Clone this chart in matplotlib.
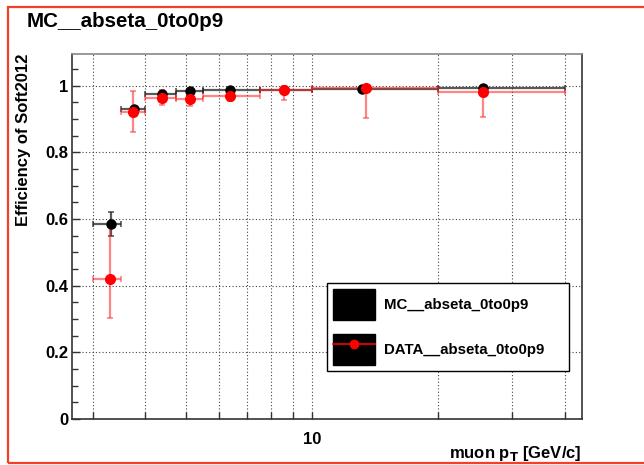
import numpy as np
import matplotlib
matplotlib.use("Agg")
import matplotlib.pyplot as plt
from matplotlib.patches import Patch, Rectangle
from matplotlib.lines import Line2D
from matplotlib.legend_handler import HandlerTuple
from matplotlib.ticker import FixedLocator, NullFormatter

plt.rcParams['font.family'] = ['Liberation Sans', 'DejaVu Sans']
plt.rcParams['font.weight'] = 'bold'

# pt bins (GeV/c)
bin_edges = np.array([3.0, 3.5, 4.0, 4.75, 5.5, 7.5, 10.0, 20.0, 40.0])

# MC efficiency
mc_x = np.array([3.32, 3.77, 4.39, 5.12, 6.38, 8.58, 13.15, 25.5])
mc_eff = np.array([0.585, 0.931, 0.974, 0.985, 0.986, 0.988, 0.989, 0.992])
mc_err_lo = np.array([0.035, 0.006, 0.004, 0.003, 0.002, 0.002, 0.002, 0.002])
mc_err_hi = np.array([0.035, 0.006, 0.004, 0.003, 0.002, 0.002, 0.002, 0.002])

# DATA efficiency
data_x = np.array([3.30, 3.75, 4.39, 5.12, 6.38, 8.58, 13.4, 25.6])
data_eff = np.array([0.420, 0.920, 0.964, 0.960, 0.968, 0.986, 0.993, 0.980])
data_err_lo = np.array([0.117, 0.060, 0.023, 0.020, 0.015, 0.028, 0.090, 0.074])
data_err_hi = np.array([0.160, 0.063, 0.024, 0.015, 0.017, 0.014, 0.007, 0.012])

label_mc = 'MC__abseta_0to0p9'
label_data = 'DATA__abseta_0to0p9'

fig = plt.figure(figsize=(6.44, 4.65), dpi=100)
ax = fig.add_axes([0.1125, 0.0989, 0.7912, 0.786])

def draw_graph(x, y, lo, hi, color, ecolor, ms, ealpha):
    xlo = x - bin_edges[:-1]
    xhi = bin_edges[1:] - x
    ax.errorbar(x, y, xerr=[xlo, xhi], yerr=[lo, hi], fmt='none',
                ecolor=ecolor, elinewidth=1.6, capsize=2.5, capthick=1.2,
                alpha=ealpha, zorder=3)
    ax.plot(x, y, 'o', color=color, ms=ms, zorder=4)

draw_graph(mc_x, mc_eff, mc_err_lo, mc_err_hi, 'black', '#222222', 6.5, 0.75)
draw_graph(data_x, data_eff, data_err_lo, data_err_hi, 'red', '#ff2020', 7.0, 0.55)

ax.set_xscale('log')
ax.set_xlim(2.684, 43.95)
ax.set_ylim(0, 1.096)

ax.xaxis.set_major_locator(FixedLocator([10]))
ax.xaxis.set_minor_locator(FixedLocator([3, 4, 5, 6, 7, 8, 9, 20, 30, 40]))
ax.xaxis.set_major_formatter(plt.FormatStrFormatter('%d'))
ax.xaxis.set_minor_formatter(NullFormatter())
ax.yaxis.set_major_locator(FixedLocator([0, 0.2, 0.4, 0.6, 0.8, 1.0]))
ax.yaxis.set_minor_locator(FixedLocator(np.arange(0.05, 1.09, 0.05)))
ax.set_yticklabels(['0', '0.2', '0.4', '0.6', '0.8', '1'])

ax.tick_params(which='both', direction='in', top=False, right=False,
               labelsize=12, width=1.0, color='#333333')
ax.tick_params(axis='y', which='major', length=6, pad=3)
ax.tick_params(axis='y', which='minor', length=4)
ax.tick_params(axis='x', which='both', length=5, pad=9)

ax.grid(True, which='major', linestyle=(0, (1, 2)), color='#444444', lw=0.8)
ax.grid(True, which='minor', axis='x', linestyle=(0, (1, 2)), color='#444444', lw=0.8)
ax.set_axisbelow(True)

for s in ax.spines.values():
    s.set_color('#333333')
    s.set_linewidth(1.2)
ax.spines['top'].set_color('#888888')

ax.set_xlabel(r'muon p$_\mathbf{T}$ [GeV/c]', fontsize=12, fontweight='bold',
              loc='right', labelpad=-2)
ax.set_ylabel('Efficiency of Soft2012', fontsize=12, fontweight='bold',
              loc='top', labelpad=10)

fig.text(0.0415, 0.953, label_mc, fontsize=14.8, fontweight='bold', va='center')

# legend
h_mc = Patch(facecolor='black', edgecolor='black')
h_data = (Patch(facecolor='black', edgecolor='black'),
          Line2D([], [], color='red', lw=1.2, marker='o', ms=6))
leg = ax.legend([h_mc, h_data], [label_mc, label_data],
                handler_map={tuple: HandlerTuple(ndivide=1, pad=0)},
                loc='upper left', bbox_to_anchor=(0.5, 0.0, 0.4745, 0.3726),
                bbox_transform=ax.transAxes, mode='expand', borderaxespad=0,
                fontsize=10.8, handlelength=2.8, handleheight=2.8,
                labelspacing=0.93, borderpad=0.4, handletextpad=0.6,
                fancybox=False, framealpha=1, edgecolor='black')
leg.get_frame().set_linewidth(1.0)

# pad border
fig.patches.append(Rectangle((8 / 644, 2 / 465), 1.0, 1 - 9.5 / 465,
                             transform=fig.transFigure, fill=False,
                             edgecolor='#f0402a', lw=1.6))

fig.savefig('out.png', dpi=100)
